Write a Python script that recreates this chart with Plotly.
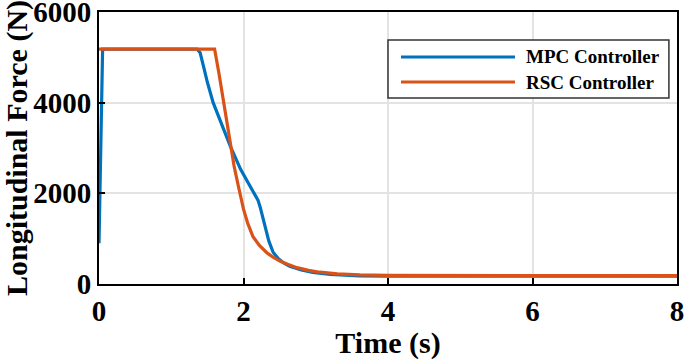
import plotly.graph_objects as go

mpc_t = [0.0, 0.05, 1.36, 1.40, 1.45, 1.50, 1.58, 1.70, 1.82, 1.96, 2.06, 2.16, 2.20, 2.23, 2.27, 2.30, 2.35, 2.41, 2.48, 2.56, 2.64, 2.80, 2.96, 3.2, 3.6, 4.0, 8.0]
mpc_f = [900, 5180, 5180, 5100, 4780, 4450, 4000, 3500, 3030, 2530, 2250, 1980, 1850, 1700, 1450, 1210, 950, 700, 560, 460, 390, 310, 255, 210, 180, 175, 175]

rsc_t = [0.0, 1.60, 1.66, 1.72, 1.77, 1.82, 1.87, 1.93, 2.00, 2.06, 2.13, 2.22, 2.33, 2.42, 2.51, 2.62, 2.74, 2.90, 3.06, 3.3, 3.61, 4.0, 5.0, 8.0]
rsc_f = [5180, 5180, 4650, 4050, 3550, 3050, 2600, 2150, 1650, 1330, 1050, 850, 680, 580, 500, 430, 360, 300, 260, 225, 200, 190, 185, 185]

series_names = ["MPC Controller", "RSC Controller"]
series_colors = ["#0072BD", "#D95319"]

x_ticks = [0, 2, 4, 6, 8]
y_ticks = [0, 2000, 4000, 6000]

FONT = "Liberation Serif"

fig = go.Figure()
for (t, f), name, col in zip([(mpc_t, mpc_f), (rsc_t, rsc_f)], series_names, series_colors):
    fig.add_trace(go.Scatter(x=t, y=f, mode="lines", name=name, showlegend=False,
                             line=dict(color=col, width=3.2)))

axis_common = dict(showline=True, linecolor="black", linewidth=2, mirror=True,
                   ticks="inside", ticklen=6, tickwidth=2, tickcolor="black",
                   showgrid=True, gridcolor="#e3e3e3", gridwidth=1.5, zeroline=False,
                   automargin=False, ticklabeloverflow="allow",
                   tickfont=dict(family=FONT, size=29, color="black"))

fig.update_xaxes(range=[0, 8], tickvals=x_ticks, ticktext=[f"<b>{v}</b>" for v in x_ticks],
                 title=dict(text="<b>Time (s)</b>", font=dict(family=FONT, size=30, color="black")),
                 **axis_common)
fig.update_yaxes(range=[0, 6000], tickvals=y_ticks, ticktext=[f"<b>{v}</b>" for v in y_ticks],
                 title=dict(text="<b>Longitudinal Force (N)</b>", font=dict(family=FONT, size=30, color="black")),
                 **axis_common)

# custom legend (box, line samples, labels) in paper coordinates
fig.add_shape(type="rect", xref="paper", yref="paper", x0=0.5, x1=0.986, y0=0.684, y1=0.897,
              line=dict(color="#333", width=1.5), fillcolor="white", layer="above")
for i, (name, col) in enumerate(zip(series_names, series_colors)):
    yy = [0.8346, 0.7426][i]
    fig.add_shape(type="line", xref="paper", yref="paper", x0=0.5225, x1=0.7197, y0=yy, y1=yy,
                  line=dict(color=col, width=3.2), layer="above")
    fig.add_annotation(xref="paper", yref="paper", x=0.7353, y=yy, xanchor="left", yanchor="middle",
                       text=f"<b>{name}</b>", showarrow=False,
                       font=dict(family=FONT, size=19, color="black"))

fig.update_layout(
    width=685, height=360,
    margin=dict(l=99, r=8, t=12, b=76),
    plot_bgcolor="white", paper_bgcolor="white",
    showlegend=False,
)

fig.write_html("out.html", config={"displayModeBar": False},
               post_script="document.body.style.margin='0';document.body.style.overflow='hidden';")
